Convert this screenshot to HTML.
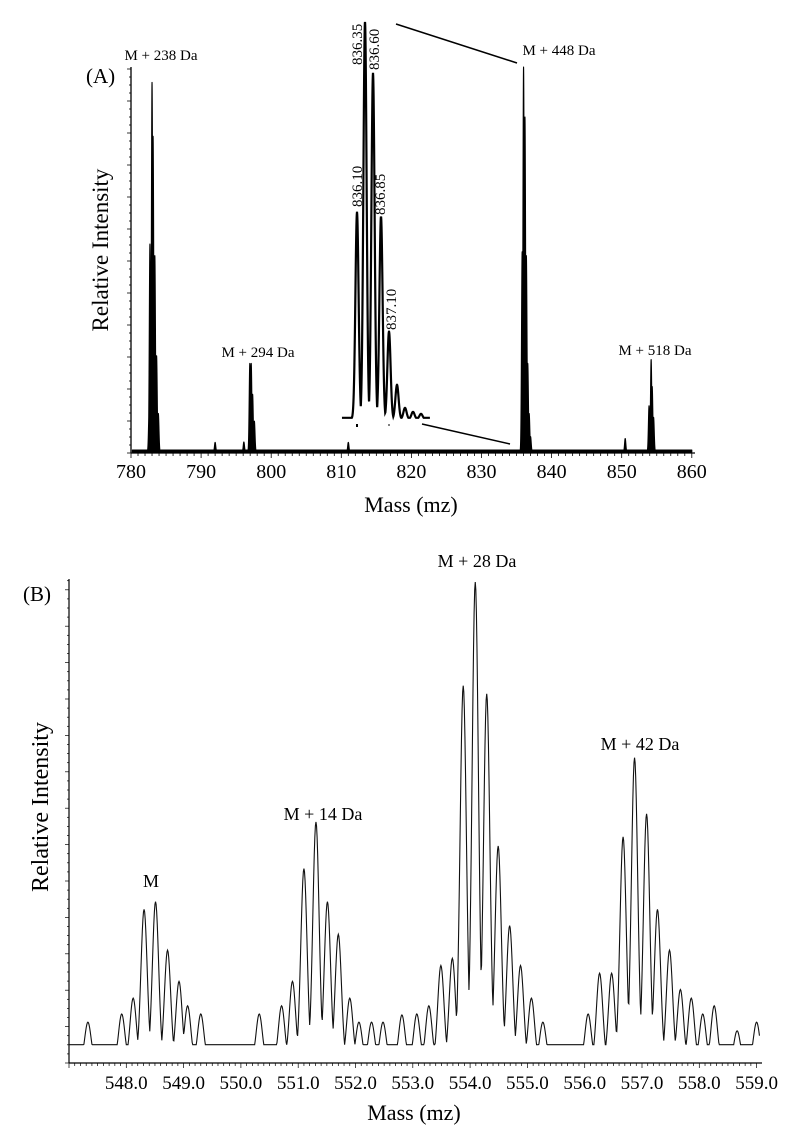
<!DOCTYPE html>
<html><head><meta charset="utf-8"><style>
html,body{margin:0;padding:0;background:#fff;}
svg{display:block;font-family:"Liberation Serif",serif;}
</style></head><body>
<svg id="fig" width="800" height="1142" viewBox="0 0 800 1142" xmlns="http://www.w3.org/2000/svg">
<g id="pa"></g>
<g id="pb"></g>
</svg>
<script>
// Panel A data
const aPeakMass = [782.6,782.7,783.0,783.15,783.4,783.65,783.9, 792.0,796.1,796.95,797.15,797.35,797.6, 811.0,
  835.8,836.0,836.2,836.4,836.6,836.8,837.0, 850.5,853.9,854.2,854.35,854.55];
const aPeakInt  = [12,54,96,82,51,25,10, 2.5,2.6,23,23,15,8, 2.5,
  52,100,87,51,23,10,4, 3.5,12,24,17,9];
const aTicks = [780,790,800,810,820,830,840,850,860];
// Inset data
const insetMass = [836.10,836.35,836.60,836.85,837.10,837.35,837.60,837.85,838.10];
const insetInt  = [52,100,87,51,22,8.6,2.8,1.8,1.3];
const insetLabels = ["836.10","836.35","836.60","836.85","837.10"];
// Panel B data
const bPeakMass = [547.33,547.92,548.12,548.31,548.51,548.72,548.92,549.07,549.30,
  550.32,550.71,550.90,551.10,551.31,551.51,551.70,551.90,552.06,552.28,552.48,552.81,553.07,553.28,
  553.49,553.69,553.88,554.09,554.29,554.49,554.69,554.88,555.07,555.27,
  556.06,556.26,556.47,556.67,556.87,557.08,557.27,557.48,557.67,557.86,558.06,558.26,558.66,559.0];
const bPeakInt = [8.3,10,13.3,31.8,33.4,23.3,16.8,11.7,10,
  10,11.7,16.8,40.3,50,33.4,26.6,13.3,8.3,8.3,8.3,9.8,10,11.7,
  20.1,21.6,78.4,100,76.7,45,28.4,20.1,13.3,8.3,
  10,18.5,18.5,46.9,63.4,51.7,31.8,23.3,15.1,13.3,10,11.7,6.5,8.3];
const bTicks = [548,549,550,551,552,553,554,555,556,557,558,559];

const NS="http://www.w3.org/2000/svg";
function mk(parent,tag,attrs,text){const e=document.createElementNS(NS,tag);for(const k in attrs)e.setAttribute(k,attrs[k]);if(text!==undefined)e.textContent=text;parent.appendChild(e);return e;}
function spectrum(masses,ints,m0,m1,step,sigma,base){const pts=[];for(let m=m0;m<=m1+1e-9;m+=step){let v=base;for(let i=0;i<masses.length;i++){const d=m-masses[i];if(Math.abs(d)<6*sigma)v=Math.max(v,ints[i]*Math.exp(-d*d/(2*sigma*sigma)));}pts.push([m,Math.min(v,100)]);}return pts;}

// ---------- Panel A ----------
const pa=document.getElementById('pa');
const ax=m=>131+(m-780)*7.01, ay=v=>452-v*3.85;
let e;
e=mk(pa,'line',{x1:131,y1:67,x2:131,y2:453,stroke:'#000','stroke-width':1.3});

e=mk(pa,'line',{x1:131,y1:453,x2:695,y2:453,stroke:'#000','stroke-width':1.3});

for(let i=0;i<=48;i++){const y=453-i*8.0;mk(pa,'line',{x1:i%4==0?127:129,y1:y,x2:131,y2:y,stroke:'#000','stroke-width':0.8});}
for(let m=780;m<=860;m++){const x=ax(m);mk(pa,'line',{x1:x,y1:453,x2:x,y2:m%10==0?458:456,stroke:'#000','stroke-width':0.8});}
aTicks.forEach(t=>{const l=mk(pa,'text',{x:ax(t),y:478,'font-size':20,'text-anchor':'middle'},String(t));
});
const aPts=spectrum(aPeakMass,aPeakInt,780.2,860,0.01,0.09,0.5);
e=mk(pa,'polygon',{points:ax(780.2)+','+ay(0)+' '+aPts.map(p=>ax(p[0]).toFixed(2)+','+ay(p[1]).toFixed(2)).join(' ')+' '+ax(860)+','+ay(0),fill:'#000',stroke:'#000','stroke-width':1.1,'stroke-linejoin':'round'});

// inset
const ix=m=>357+(m-836.10)*32, iy=v=>419-v*3.97;
const iPts=spectrum(insetMass,insetInt,835.63,838.38,0.004,0.05,0.3);
e=mk(pa,'polyline',{points:iPts.map(p=>ix(p[0]).toFixed(2)+','+iy(p[1]).toFixed(2)).join(' '),fill:'none',stroke:'#000','stroke-width':2.2});

mk(pa,'rect',{x:ix(836.10)-1,y:424,width:2,height:3,fill:'#000'});
mk(pa,'rect',{x:ix(837.10)-0.5,y:424,width:1,height:2,fill:'#000'});
// label layout: [x offset from peak, y start]
const insetLabelPos=[[5,207],[-3,65],[6,70],[4,215],[7,330]];
insetLabels.forEach((t,i)=>{const x=ix(insetMass[i])+insetLabelPos[i][0],y=insetLabelPos[i][1];
const l=mk(pa,'text',{x:x,y:y,'font-size':15,transform:`rotate(-90 ${x} ${y})`},t);
});
e=mk(pa,'line',{x1:396,y1:24,x2:517,y2:63,stroke:'#000','stroke-width':1.5});

e=mk(pa,'line',{x1:422,y1:424,x2:510,y2:444,stroke:'#000','stroke-width':1.5});

const aLabels=[["M + 238 Da",161,60],["M + 294 Da",258,357],["M + 448 Da",559,55],["M + 518 Da",655,355]];
aLabels.forEach(a=>{const l=mk(pa,'text',{x:a[1],y:a[2],'font-size':15,'text-anchor':'middle'},a[0]);
});
e=mk(pa,'text',{x:86,y:83,'font-size':21},'(A)');
e=mk(pa,'text',{x:411,y:512,'font-size':22,'text-anchor':'middle'},'Mass (mz)');
e=mk(pa,'text',{x:108,y:250,'font-size':23,'text-anchor':'middle',transform:'rotate(-90 108 250)'},'Relative Intensity');

// ---------- Panel B ----------
const pb=document.getElementById('pb');
const bx=m=>69+(m-547.0)*57.3, by=v=>1062-v*4.8;
e=mk(pb,'line',{x1:69,y1:579,x2:69,y2:1063,stroke:'#000','stroke-width':1.2});

e=mk(pb,'line',{x1:69,y1:1063,x2:762,y2:1063,stroke:'#000','stroke-width':1.2});

for(let i=0;i<=53;i++){const y=1063-i*9.1;mk(pb,'line',{x1:i%4==0?65:67,y1:y,x2:69,y2:y,stroke:'#000','stroke-width':0.7});}
for(let k=0;k<=120;k++){const m=547+k*0.1,x=bx(m);mk(pb,'line',{x1:x,y1:1063,x2:x,y2:k%10==0?1068:1066,stroke:'#000','stroke-width':0.7});}
bTicks.forEach(t=>{const l=mk(pb,'text',{x:bx(t),y:1089,'font-size':19,'text-anchor':'middle'},t.toFixed(1));
});
const bPts=spectrum(bPeakMass,bPeakInt,547.0,559.05,0.01,0.055,3.6);
e=mk(pb,'polyline',{points:bPts.map(p=>bx(p[0]).toFixed(2)+','+by(p[1]).toFixed(2)).join(' '),fill:'none',stroke:'#111','stroke-width':1.1});

const bLabels=[["M",151,887],["M + 14 Da",323,820],["M + 28 Da",477,567],["M + 42 Da",640,750]];
bLabels.forEach(a=>{const l=mk(pb,'text',{x:a[1],y:a[2],'font-size':18,'text-anchor':'middle'},a[0]);
});
e=mk(pb,'text',{x:23,y:601,'font-size':21},'(B)');
e=mk(pb,'text',{x:414,y:1120,'font-size':22,'text-anchor':'middle'},'Mass (mz)');
e=mk(pb,'text',{x:48,y:807,'font-size':24,'text-anchor':'middle',transform:'rotate(-90 48 807)'},'Relative Intensity');
</script>
</body></html>
